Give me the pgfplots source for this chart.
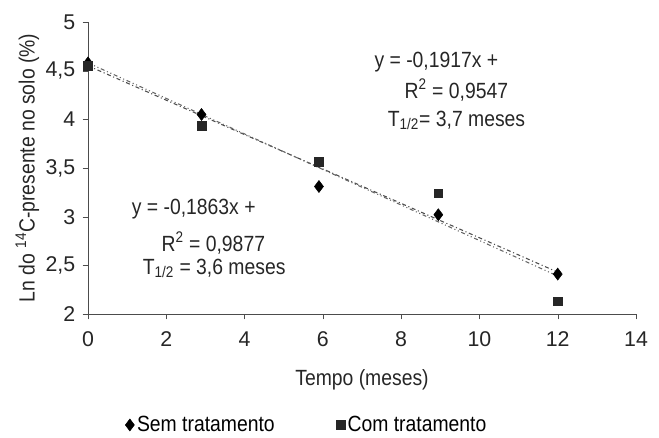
\documentclass[border=0pt]{standalone}
\usepackage{pgfplots}
\pgfplotsset{compat=1.18}
\usepackage{fontspec}
\setmainfont{Liberation Sans}
\newfontfamily\narrowfont[FakeStretch=0.88]{Liberation Sans}
\newcommand{\chartfont}{\fontsize{16}{18}\selectfont}
\newcommand{\labelfont}{\narrowfont\fontsize{16.5}{18}\selectfont}
\begin{document}
\begin{tikzpicture}
% frame the picture like the scanned original
\path[use as bounding box] (-66pt,-92.25pt) rectangle (428.25pt,235.5pt);
\begin{axis}[
    at={(0,0)}, anchor=south west,
    scale only axis,
    width=411pt, height=219pt,
    xmin=0, xmax=14, ymin=2, ymax=5,
    xtick={0,2,4,6,8,10,12,14},
    ytick={2,2.5,3,3.5,4,4.5,5},
    axis lines=left,
    axis line style={-, black!70},
    tick style={black!70},
    tick align=outside,
    major tick length=4pt,
    /pgf/number format/use comma,
    /pgf/number format/assume math mode=true,
    tick label style={font=\chartfont, black!85},
    xticklabel style={yshift=-6pt},
    yticklabel style={xshift=-2pt},
    label style={font=\labelfont, black!85},
    xlabel={Tempo (meses)},
    ylabel={Ln do \textsuperscript{14}C-presente no solo (\%)},
    xlabel style={yshift=-10pt},
    ylabel style={yshift=-2pt},
    legend style={at={(0.40,-0.38)}, anchor=center, draw=none, fill=none,
        legend columns=2, font=\labelfont,
        /tikz/every even column/.append style={column sep=44pt}},
    legend cell align=left,
    clip=false,
]
% trend lines
\addplot[forget plot, black!70, thick, dash dot] coordinates {(0,4.55) (12,2.43)};
\addplot[forget plot, black!60, thick, dash dot dot] coordinates {(0,4.58) (12,2.39)};
% Sem tratamento
\addplot[only marks, mark=diamond*, mark size=4.5pt, black] coordinates {
    (0,4.58) (2.9,4.05) (5.9,3.31) (8.95,3.02) (12,2.41)
};
\addlegendentry{Sem tratamento}
% Com tratamento
\addplot[only marks, mark=square*, mark size=3.3pt, black!85] coordinates {
    (0,4.55) (2.9,3.93) (5.9,3.56) (8.95,3.24) (12,2.13)
};
\addlegendentry{Com tratamento}
\node[anchor=west, font=\labelfont, black!85] at (axis cs:7.2,4.59) {y = -0,1917x +};
\node[anchor=west, font=\labelfont, black!85] at (axis cs:7.97,4.30) {R\textsuperscript{2} = 0,9547};
\node[anchor=west, font=\labelfont, black!85] at (axis cs:7.54,3.99) {T\textsubscript{1/2}= 3,7 meses};
\node[anchor=west, font=\labelfont, black!85] at (axis cs:1.0,3.08) {y = -0,1863x +};
\node[anchor=west, font=\labelfont, black!85] at (axis cs:1.76,2.73) {R\textsuperscript{2} = 0,9877};
\node[anchor=west, font=\labelfont, black!85] at (axis cs:1.28,2.47) {T\textsubscript{1/2} = 3,6 meses};
\end{axis}
\end{tikzpicture}
\end{document}
